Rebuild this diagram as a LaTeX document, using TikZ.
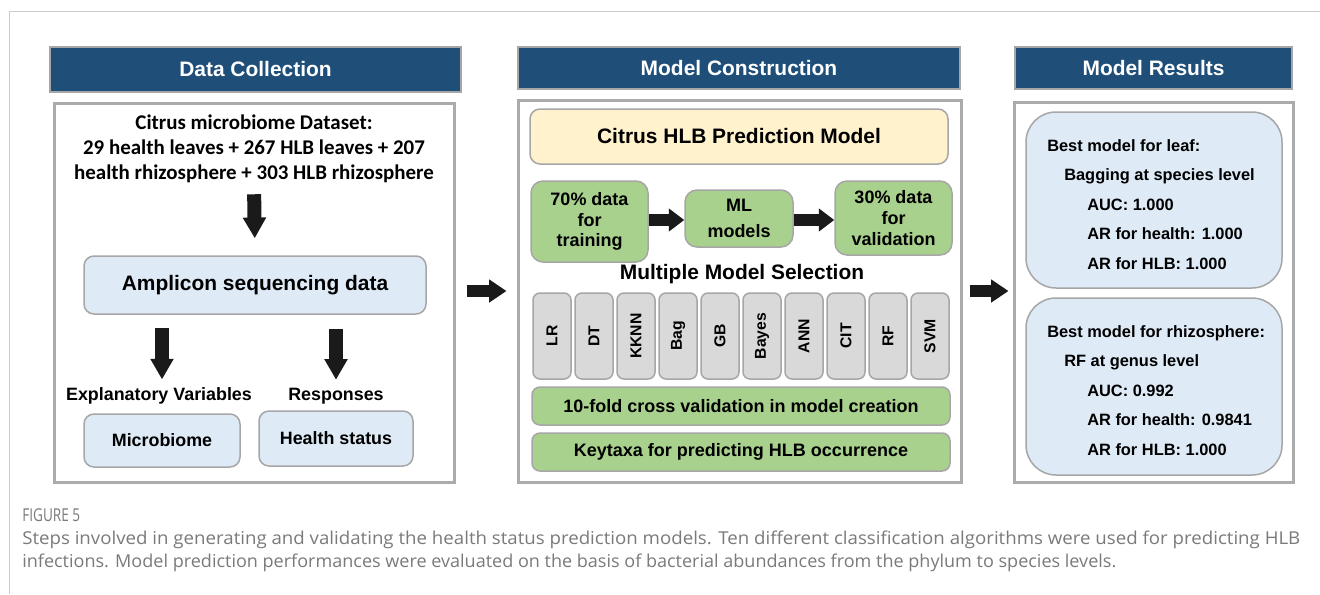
\documentclass[tikz,border=0pt]{standalone}
\usepackage{fontspec}
\usepackage{graphicx}
\usetikzlibrary{arrows.meta}
\newfontfamily\arialf{Liberation Sans}
\newfontfamily\calibf{Carlito}
\newfontfamily\capf{Open Sans}
\newdimen\px \px=0.75pt
\definecolor{hblue}{HTML}{1F4E79}
\definecolor{hgray}{HTML}{A6A6A6}
\definecolor{pgray}{HTML}{ABABAB}
\definecolor{bgray}{HTML}{A6A6A6}
\definecolor{lblue}{HTML}{DEEBF7}
\definecolor{lyel}{HTML}{FFF2CC}
\definecolor{lgreen}{HTML}{A9D18E}
\definecolor{lgray}{HTML}{D9D9D9}
\definecolor{ablack}{HTML}{1A1A1A}
\definecolor{framec}{HTML}{CCCCCC}
\definecolor{capc}{HTML}{7A7A7A}
\begin{document}
\begin{tikzpicture}[x=0.75pt,y=-0.75pt,
  hdr/.style={draw=hgray, line width=1.5\px, fill=hblue, text=white, inner sep=0pt,
    font=\arialf\bfseries\fontsize{15.7}{18}\selectfont},
  panel/.style={draw=pgray, line width=3\px, fill=white, inner sep=0pt},
  rbox/.style={draw=bgray, line width=1.5\px, rounded corners=10\px, inner sep=0pt, align=center},
  bluebox/.style={rbox, fill=lblue},
  greenbox/.style={rbox, fill=lgreen, rounded corners=12\px,
    font=\arialf\bfseries\fontsize{13.5}{15.6}\selectfont},
  algbox/.style={rbox, fill=lgray, rounded corners=7\px, rotate=90,
    minimum width=86\px, minimum height=38\px,
    font=\arialf\bfseries\fontsize{11.8}{13}\selectfont},
  wide/.style={rbox, fill=lgreen, rounded corners=8\px, minimum width=418\px, minimum height=38\px,
    font=\arialf\bfseries\fontsize{13.5}{15}\selectfont},
  res/.style={rbox, fill=lblue, rounded corners=30\px, minimum width=256\px},
  rtxt/.style={anchor=base west, inner sep=0pt, font=\arialf\bfseries\fontsize{12.3}{14}\selectfont},
  lbl/.style={inner sep=0pt, font=\arialf\bfseries\fontsize{13.4}{15}\selectfont},
  blkv/.style={draw=ablack, line width=10.5pt, -{Triangle[width=16.5pt,length=15.5pt]}},
  blkh/.style={draw=ablack, line width=9pt, -{Triangle[width=16.5pt,length=13pt]}},
  blks/.style={draw=ablack, line width=9.5pt, -{Triangle[width=16.5pt,length=11.5pt]}},
  capt/.style={anchor=base west, inner sep=0pt, text=capc, font=\capf\fontsize{13.3}{16}\selectfont}
]
\useasboundingbox (0,0) rectangle (1320,594);
\fill[white] (0,0) rectangle (1320,594);
% outer frame lines
\coordinate (fr1) at (1320,11.5);
\coordinate (fr2) at (9.5,11.5);
\coordinate (fr3) at (9.5,594);
\draw[framec, line width=1.5\px] (fr1) -- (fr2) -- (fr3);

% headers
\node[hdr, minimum width=411\px, minimum height=45\px] (hdA) at (255.5,69.5) {Data Collection};
\node[hdr, minimum width=442\px, minimum height=42\px] (hdB) at (739,68) {Model Construction};
\node[hdr, minimum width=277\px, minimum height=42\px] (hdC) at (1153.5,68) {Model Results};

% panels
\node[panel, minimum width=400\px, minimum height=379\px] (pA) at (254,292.5) {};
\node[panel, minimum width=443\px, minimum height=382\px] (pB) at (739.5,291) {};
\node[panel, minimum width=279\px, minimum height=380\px] (pC) at (1153.5,292) {};

% ---- Data collection column
\node[inner sep=0pt, align=center, font=\calibf\bfseries\fontsize{15.7}{18.75}\selectfont] (ds) at (254,149)
  {Citrus microbiome Dataset:\\29 health leaves + 267 HLB leaves + 207\\health rhizosphere + 303 HLB rhizosphere};
\node[bluebox, minimum width=342\px, minimum height=58\px,
  font=\arialf\bfseries\fontsize{15.7}{18}\selectfont] (amp) at (255,285) {Amplicon sequencing data};
\node[lbl] (ev) at (159,396) {Explanatory Variables};
\node[lbl] (resp) at (336,396) {Responses};
\node[bluebox, minimum width=156\px, minimum height=53\px,
  font=\arialf\bfseries\fontsize{13.4}{15}\selectfont] (mic) at (162,440.5) {Microbiome};
\node[bluebox, minimum width=154\px, minimum height=55\px,
  font=\arialf\bfseries\fontsize{13.4}{15}\selectfont] (hs) at (336,438.5) {Health status};
\draw[blkv, shorten <=11\px, shorten >=17\px] (ds.south) -- (amp.north);
\draw[blkv, shorten <=13\px, shorten >=8\px] (amp.south -| mic.north) -- (ev.north -| mic.north);
\draw[blkv, shorten <=14\px, shorten >=8\px] (amp.south -| resp.north) -- (resp.north);

% ---- Model construction column
\node[rbox, fill=lyel, minimum width=418\px, minimum height=55\px,
  font=\arialf\bfseries\fontsize{15.7}{18}\selectfont] (hlb) at (739,136.5) {Citrus HLB Prediction Model};
\node[greenbox, minimum width=117\px, minimum height=81\px] (tr) at (589.5,221.5) {70\% data\\for\\training};
\node[greenbox, minimum width=108\px, minimum height=57\px,
  font=\arialf\bfseries\fontsize{13.5}{19.5}\selectfont] (ml) at (739,218.5) {ML\\models};
\node[greenbox, minimum width=117\px, minimum height=74\px] (va) at (893.5,218) {30\% data\\for\\validation};
\draw[blks] (tr.east |- ml.west) ++(0,1.5) coordinate (t1) (t1) -- (ml.west |- t1);
\draw[blks] (ml.east) ++(0,1.5) coordinate (t2) (t2) -- (va.west |- t2);
\node[inner sep=0pt, font=\arialf\bfseries\fontsize{15.7}{18}\selectfont] (mms) at (742,274) {Multiple Model Selection};
\foreach \n [count=\i from 0] in {LR,DT,KKNN,Bag,GB,Bayes,ANN,CIT,RF,SVM}{
  \node[algbox] (alg\i) at (552+42*\i,336) {\n};
}
\node[wide] (cv) at (741,406) {10-fold cross validation in model creation};
\node[wide] (kt) at (741,452) {Keytaxa for predicting HLB occurrence};

% ---- Model results column
\node[res, minimum height=176\px] (leaf) at (1154,200) {};
\node[res, minimum height=177\px] (rhz) at (1154,386.5) {};
\node[rtxt] (l1) at (1047,151) {Best model for leaf:};
\node[rtxt] (l2) at (1064,180.5) {Bagging at species level};
\node[rtxt] (l3) at (1087,210) {AUC: 1.000};
\node[rtxt] (l4) at (1087,239.5) {AR for health: 1.000};
\node[rtxt] (l5) at (1087,269) {AR for HLB: 1.000};
\node[rtxt] (r1) at (1047,337) {Best model for rhizosphere:};
\node[rtxt] (r2) at (1064,366.5) {RF at genus level};
\node[rtxt] (r3) at (1087,396) {AUC: 0.992};
\node[rtxt] (r4) at (1087,425.5) {AR for health: 0.9841};
\node[rtxt] (r5) at (1087,455) {AR for HLB: 1.000};

% ---- arrows between columns
\draw[blkh, shorten <=11\px, shorten >=10\px] (pA.east |- 0,291) coordinate (a1) (a1) -- (pB.west |- a1);
\draw[blkh, shorten <=7\px, shorten >=4\px] (pB.east |- 0,291) coordinate (a2) (a2) -- (pC.west |- a2);

% ---- caption
\node[capt] (fig) at (22,521) {\resizebox{58\px}{\height}{FIGURE 5}};
\node[capt] (c1) at (22,544) {\resizebox{1278\px}{\height}{Steps involved in generating and validating the health status prediction models. Ten different classification algorithms were used for predicting HLB}};
\node[capt] (c2) at (22,567) {\resizebox{1094\px}{\height}{infections. Model prediction performances were evaluated on the basis of bacterial abundances from the phylum to species levels.}};
\end{tikzpicture}
\end{document}
